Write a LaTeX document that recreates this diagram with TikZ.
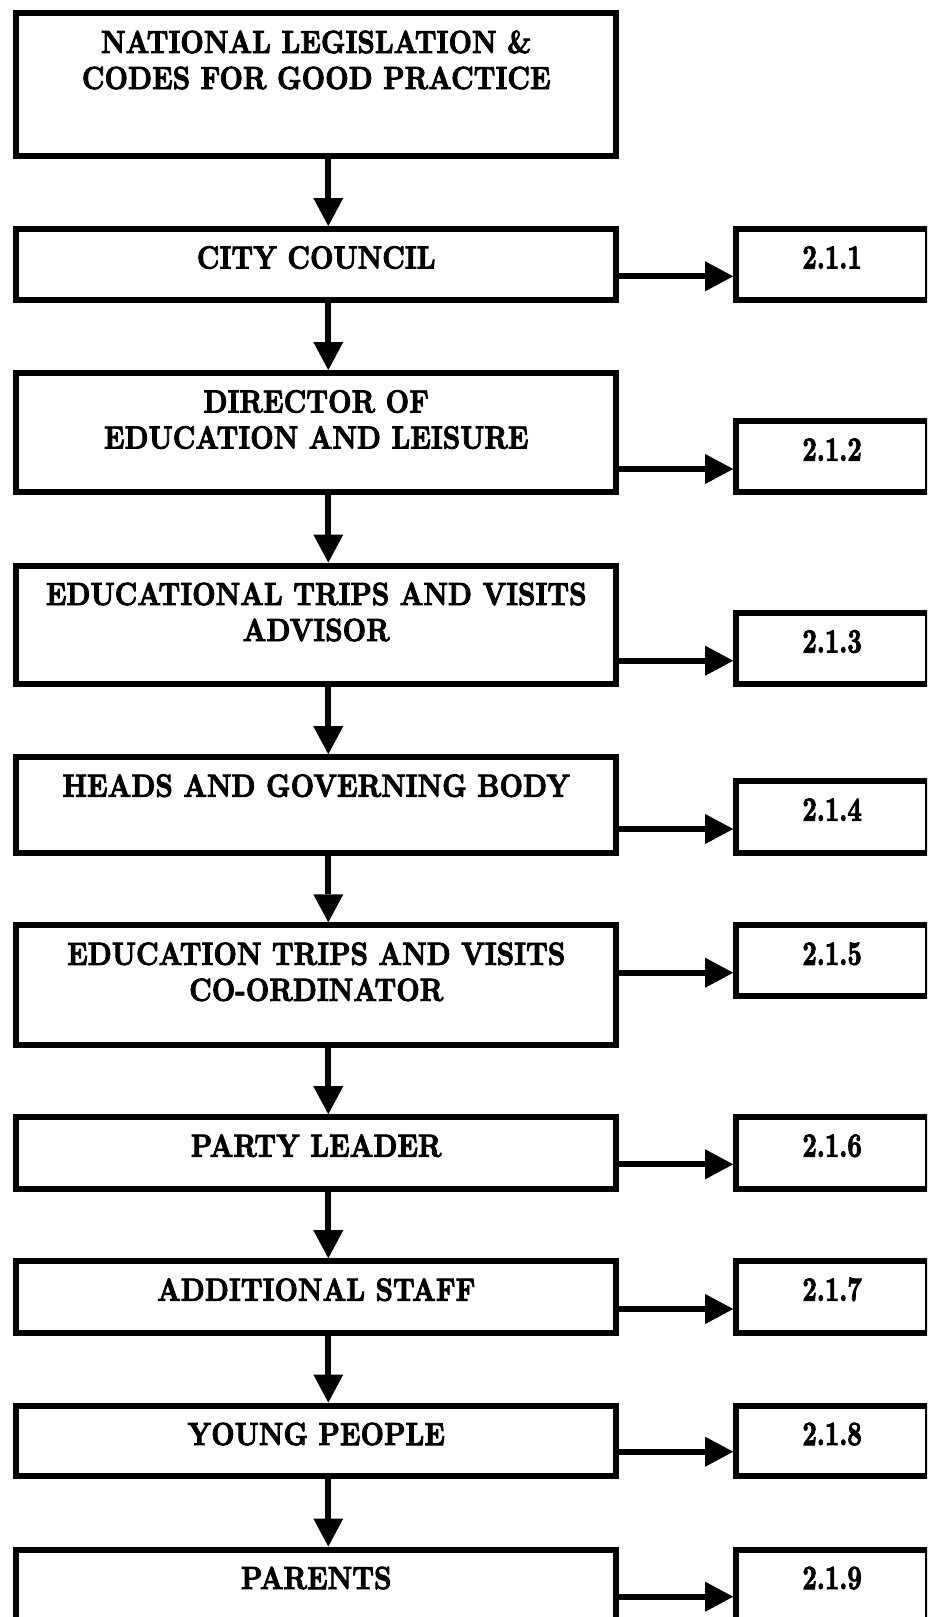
\documentclass[tikz,border=0pt]{standalone}
\usepackage{graphicx}
\usepackage{fontspec}
\newfontfamily\heavyfont{lmroman10-bold}[Extension=.otf, FakeBold=3]
\usetikzlibrary{arrows.meta}
\newcommand{\ltxt}[1]{\scalebox{0.852}[1]{\heavyfont\fontsize{32}{36}\selectfont\begin{tabular}[t]{@{}c@{}}#1\end{tabular}}}
\newcommand{\rtxt}[1]{\scalebox{0.74}[1]{\heavyfont\fontsize{34}{40}\selectfont #1}}
\begin{document}
\begin{tikzpicture}[x=1pt,y=-1pt,
 lbox/.style={draw, line width=6pt, minimum width=600.1pt, inner sep=0pt},
 rbox/.style={draw, line width=6pt, minimum width=191.8pt, inner sep=0pt},
 ltext/.style={anchor=base, inner sep=0pt},
 rtext/.style={anchor=base, inner sep=0pt},
 arr/.style={line width=6pt, -{Triangle[length=28pt,width=30pt,line width=0pt]}}]
\useasboundingbox (0,0) rectangle (927,1617);
\clip (0,0) rectangle (927,1617);
\fill[white] (0,0) rectangle (927,1617);

% left column boxes
\node[lbox, minimum height=143.8pt] (b1) at (316.25,84.4) {};
\node[lbox, minimum height=71.3pt] (b2) at (316.25,264.65) {};
\node[lbox, minimum height=118.7pt] (b3) at (316.25,432.35) {};
\node[lbox, minimum height=118.7pt] (b4) at (316.25,624.85) {};
\node[lbox, minimum height=95.3pt] (b5) at (316.25,804.85) {};
\node[lbox, minimum height=119.4pt] (b6) at (316.25,985) {};
\node[lbox, minimum height=71.6pt] (b7) at (316.25,1153) {};
\node[lbox, minimum height=71.6pt] (b8) at (316.25,1297) {};
\node[lbox, minimum height=70.8pt] (b9) at (316.25,1440.9) {};
\node[lbox, minimum height=150.5pt] (b10) at (316.25,1624.75) {};

% right column boxes
\node[rbox, minimum height=71.3pt] (r1) at (832.1,264.65) {};
\node[rbox, minimum height=70.5pt] (r2) at (832.1,456.45) {};
\node[rbox, minimum height=71.2pt] (r3) at (832.1,648.6) {};
\node[rbox, minimum height=71.3pt] (r4) at (832.1,816.85) {};
\node[rbox, minimum height=70.9pt] (r5) at (832.1,960.75) {};
\node[rbox, minimum height=71.6pt] (r6) at (832.1,1153) {};
\node[rbox, minimum height=71.6pt] (r7) at (832.1,1297) {};
\node[rbox, minimum height=70.8pt] (r8) at (832.1,1440.9) {};
\node[rbox, minimum height=150.5pt] (r9) at (832.1,1624.75) {};

% left texts
\node[ltext] (t1) at (316.25,53) {\ltxt{NATIONAL LEGISLATION \&\\CODES FOR GOOD PRACTICE}};
\node[ltext] (t2) at (316.25,268.5) {\ltxt{CITY COUNCIL}};
\node[ltext] (t3) at (316.25,412.5) {\ltxt{DIRECTOR OF\\EDUCATION AND LEISURE}};
\node[ltext] (t4) at (316.25,605) {\ltxt{EDUCATIONAL TRIPS AND VISITS\\ADVISOR}};
\node[ltext] (t5) at (316.25,796.7) {\ltxt{HEADS AND GOVERNING BODY}};
\node[ltext] (t6) at (316.25,964.8) {\ltxt{EDUCATION TRIPS AND VISITS\\CO-ORDINATOR}};
\node[ltext] (t7) at (316.25,1156.7) {\ltxt{PARTY LEADER}};
\node[ltext] (t8) at (316.25,1300.7) {\ltxt{ADDITIONAL STAFF}};
\node[ltext] (t9) at (316.25,1445) {\ltxt{YOUNG PEOPLE}};
\node[ltext] (t10) at (316.25,1589) {\ltxt{PARENTS}};

% right texts
\node[rtext] (s1) at (832.1,268.5) {\rtxt{2.1.1}};
\node[rtext] (s2) at (832.1,460.7) {\rtxt{2.1.2}};
\node[rtext] (s3) at (832.1,652.5) {\rtxt{2.1.3}};
\node[rtext] (s4) at (832.1,820.7) {\rtxt{2.1.4}};
\node[rtext] (s5) at (832.1,964.8) {\rtxt{2.1.5}};
\node[rtext] (s6) at (832.1,1156.7) {\rtxt{2.1.6}};
\node[rtext] (s7) at (832.1,1300.7) {\rtxt{2.1.7}};
\node[rtext] (s8) at (832.1,1445) {\rtxt{2.1.8}};
\node[rtext] (s9) at (832.1,1589) {\rtxt{2.1.9}};

% vertical arrows
\coordinate (vx) at (328.3,0);
\draw[arr] (b1.south -| vx) -- (b2.north -| vx);
\draw[arr] (b2.south -| vx) -- (b3.north -| vx);
\draw[arr] (b3.south -| vx) -- (b4.north -| vx);
\draw[arr] (b4.south -| vx) -- (b5.north -| vx);
\draw[arr] (b5.south -| vx) -- (b6.north -| vx);
\draw[arr] (b6.south -| vx) -- (b7.north -| vx);
\draw[arr] (b7.south -| vx) -- (b8.north -| vx);
\draw[arr] (b8.south -| vx) -- (b9.north -| vx);
\draw[arr] (b9.south -| vx) -- (b10.north -| vx);

% horizontal arrows
\coordinate (h1) at (0,276.3);
\coordinate (h2) at (0,469);
\coordinate (h3) at (0,660.7);
\coordinate (h4) at (0,829);
\coordinate (h5) at (0,972.7);
\coordinate (h6) at (0,1164.3);
\coordinate (h7) at (0,1309);
\coordinate (h8) at (0,1451.7);
\coordinate (h9) at (0,1596.7);
\draw[arr] (b2.east |- h1) -- (r1.west |- h1);
\draw[arr] (b3.east |- h2) -- (r2.west |- h2);
\draw[arr] (b4.east |- h3) -- (r3.west |- h3);
\draw[arr] (b5.east |- h4) -- (r4.west |- h4);
\draw[arr] (b6.east |- h5) -- (r5.west |- h5);
\draw[arr] (b7.east |- h6) -- (r6.west |- h6);
\draw[arr] (b8.east |- h7) -- (r7.west |- h7);
\draw[arr] (b9.east |- h8) -- (r8.west |- h8);
\draw[arr] (b10.east |- h9) -- (r9.west |- h9);
\end{tikzpicture}
\end{document}
